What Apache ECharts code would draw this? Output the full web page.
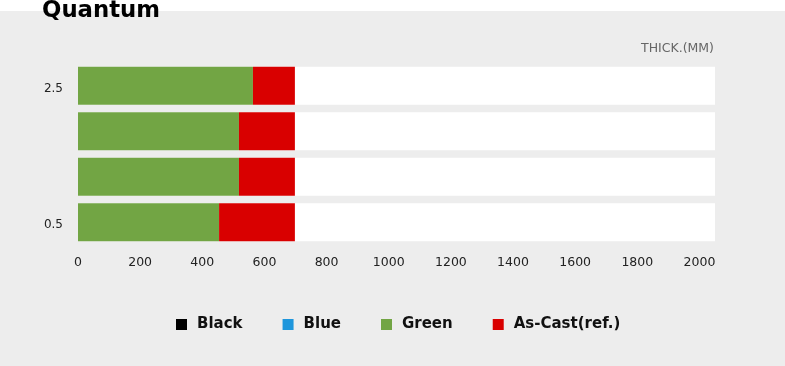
<!DOCTYPE html>
<html>
<head>
<meta charset="utf-8">
<script src="https://cdn.jsdelivr.net/npm/echarts@6/dist/echarts.min.js"></script>
<style>
html,body{margin:0;padding:0;background:#fff;}
#c{width:785px;height:366px;}
</style>
</head>
<body>
<div id="c"></div>
<script>
var titleText = 'Quantum';
var axisName = 'THICK.(MM)';
var categories = ['0.5', '', '', '2.5'];
var seriesNames = ['Black', 'Blue', 'Green', 'As-Cast(ref.)'];
var blackValues = [];
var blueValues = [];
var greenValues = [454, 518, 518, 563];
var asCastValues = [244, 180, 180, 135];
var xMin = 0, xMax = 2050, xStep = 200, xLabelMax = 2000;

var FONT = '"DejaVu Sans", sans-serif';
var chart = echarts.init(document.getElementById('c'));
chart.setOption({
  backgroundColor: '#ededed',
  animation: false,
  graphic: [{
    type: 'rect', z: -10, silent: true,
    shape: {x: 0, y: 0, width: 785, height: 11},
    style: {fill: '#ffffff'}
  }],
  title: [{
    text: titleText, left: 37, top: -5,
    textStyle: {fontFamily: FONT, fontWeight: 'bold', fontSize: 22.8, color: '#000'}
  }, {
    text: axisName, right: 66, top: 37,
    textStyle: {fontFamily: FONT, fontWeight: 'normal', fontSize: 12.5, color: '#666'}
  }],
  legend: {
    data: seriesNames, bottom: 29, left: 171,
    icon: 'rect', itemWidth: 11, itemHeight: 11, itemGap: 40,
    textStyle: {fontFamily: FONT, fontWeight: 'bold', fontSize: 15, color: '#111', padding: [0, 0, 0, 5]}
  },
  grid: {left: 78, right: 70, top: 63, bottom: 121, containLabel: false},
  xAxis: {
    type: 'value', min: xMin, max: xMax, interval: xStep,
    axisLine: {show: false}, axisTick: {show: false}, splitLine: {show: false},
    axisLabel: {
      margin: 11, color: '#222', fontFamily: FONT, fontSize: 12.5,
      showMaxLabel: false,
      formatter: function (v) { return (v % xStep === 0 && v <= xLabelMax) ? String(v) : ''; }
    }
  },
  yAxis: {
    type: 'category', data: categories,
    axisLine: {show: false}, axisTick: {show: false}, splitLine: {show: false},
    axisLabel: {
      margin: 15, color: '#222', fontFamily: FONT, fontSize: 12,
      formatter: function (v) { return v ? '{a|' + v + '}' : ''; },
      rich: {a: {fontFamily: FONT, fontSize: 12, color: '#222', padding: [6, 0, 0, 0]}}
    }
  },
  series: [
    {name: seriesNames[0], type: 'bar', stack: 's', barWidth: 38, itemStyle: {color: '#000000'}, data: blackValues},
    {name: seriesNames[1], type: 'bar', stack: 's', barWidth: 38, itemStyle: {color: '#1e96dc'}, data: blueValues},
    {name: seriesNames[2], type: 'bar', stack: 's', barWidth: 38, itemStyle: {color: '#72a544'},
      showBackground: true, backgroundStyle: {color: '#ffffff'}, data: greenValues},
    {name: seriesNames[3], type: 'bar', stack: 's', barWidth: 38, itemStyle: {color: '#d90000'}, data: asCastValues}
  ]
});
</script>
</body>
</html>
